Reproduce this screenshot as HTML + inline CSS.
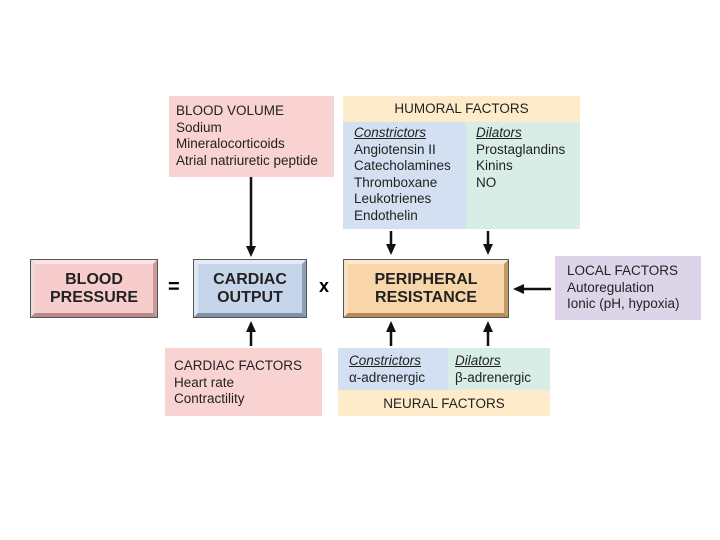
<!DOCTYPE html>
<html><head><style>
body{margin:0;width:720px;height:540px;background:#fff;font-family:"Liberation Sans",sans-serif;position:relative;overflow:hidden}
.a{position:absolute;box-sizing:border-box}
.t{font-size:13.5px;line-height:16.5px;color:#222;white-space:nowrap}
.bev{border-style:solid;border-width:4px;font-weight:bold;font-size:16px;line-height:18px;text-align:center;display:flex;align-items:center;justify-content:center;color:#222;box-shadow:0 0 0 1px #555}
u{font-style:italic}
</style></head><body>
<div class="a t" style="left:169px;top:96px;width:165px;height:81px;background:#f9d2d2;padding:7px 0 0 7px">BLOOD VOLUME<br>Sodium<br>Mineralocorticoids<br>Atrial natriuretic peptide</div>

<div class="a t" style="left:343px;top:96px;width:237px;height:26px;background:#fdebc9;text-align:center;padding-top:5px">HUMORAL FACTORS</div>
<div class="a t" style="left:343px;top:122px;width:123px;height:107px;background:#d3e0f1;padding:3px 0 0 11px"><u>Constrictors</u><br>Angiotensin II<br>Catecholamines<br>Thromboxane<br>Leukotrienes<br>Endothelin</div>
<div class="a t" style="left:466px;top:122px;width:114px;height:107px;background:#d8ede5;padding:3px 0 0 10px"><u>Dilators</u><br>Prostaglandins<br>Kinins<br>NO</div>

<div class="a bev" style="left:31px;top:260px;width:126px;height:57px;background:#f6cccc;border-color:#fbe3e3 #c99a9a #b98a8a #f0d8d8">BLOOD<br>PRESSURE</div>
<div class="a" style="left:168px;top:276px;font-size:20px;font-weight:bold">=</div>
<div class="a bev" style="left:194px;top:260px;width:112px;height:57px;background:#c7d5eb;border-color:#e3ebf6 #8fa0bb #7f90ab #dde6f3">CARDIAC<br>OUTPUT</div>
<div class="a" style="left:319px;top:276px;font-size:18px;font-weight:bold">x</div>
<div class="a bev" style="left:344px;top:260px;width:164px;height:57px;background:#f8d6aa;border-color:#fcead0 #c49a66 #b58b57 #f6e1c2">PERIPHERAL<br>RESISTANCE</div>

<div class="a t" style="left:555px;top:256px;width:146px;height:64px;background:#ddd4e9;padding:7px 0 0 12px">LOCAL FACTORS<br>Autoregulation<br>Ionic (pH, hypoxia)</div>

<div class="a t" style="left:165px;top:348px;width:157px;height:68px;background:#f9d2d2;padding:10px 0 0 9px">CARDIAC FACTORS<br>Heart rate<br>Contractility</div>
<div class="a t" style="left:338px;top:348px;width:110px;height:42px;background:#d3e0f1;padding:5px 0 0 11px"><u>Constrictors</u><br>α-adrenergic</div>
<div class="a t" style="left:448px;top:348px;width:102px;height:42px;background:#d8ede5;padding:5px 0 0 7px"><u>Dilators</u><br>β-adrenergic</div>
<div class="a t" style="left:338px;top:390px;width:212px;height:26px;background:#fdebc9;text-align:center;padding-top:6px">NEURAL FACTORS</div>

<svg class="a" style="left:0;top:0" width="720" height="540">
<g stroke="#111" stroke-width="2.5" fill="none">
<line x1="251" y1="177" x2="251" y2="248"/>
<line x1="391" y1="231" x2="391" y2="246"/>
<line x1="488" y1="231" x2="488" y2="246"/>
<line x1="251" y1="346" x2="251" y2="330"/>
<line x1="391" y1="346" x2="391" y2="330"/>
<line x1="488" y1="346" x2="488" y2="330"/>
<line x1="551" y1="289" x2="522" y2="289"/>
</g>
<g fill="#111">
<polygon points="246,246 256,246 251,257"/>
<polygon points="386,244 396,244 391,255"/>
<polygon points="483,244 493,244 488,255"/>
<polygon points="246,332 256,332 251,321"/>
<polygon points="386,332 396,332 391,321"/>
<polygon points="483,332 493,332 488,321"/>
<polygon points="524,284 524,294 513,289"/>
</g>
</svg>
</body></html>
